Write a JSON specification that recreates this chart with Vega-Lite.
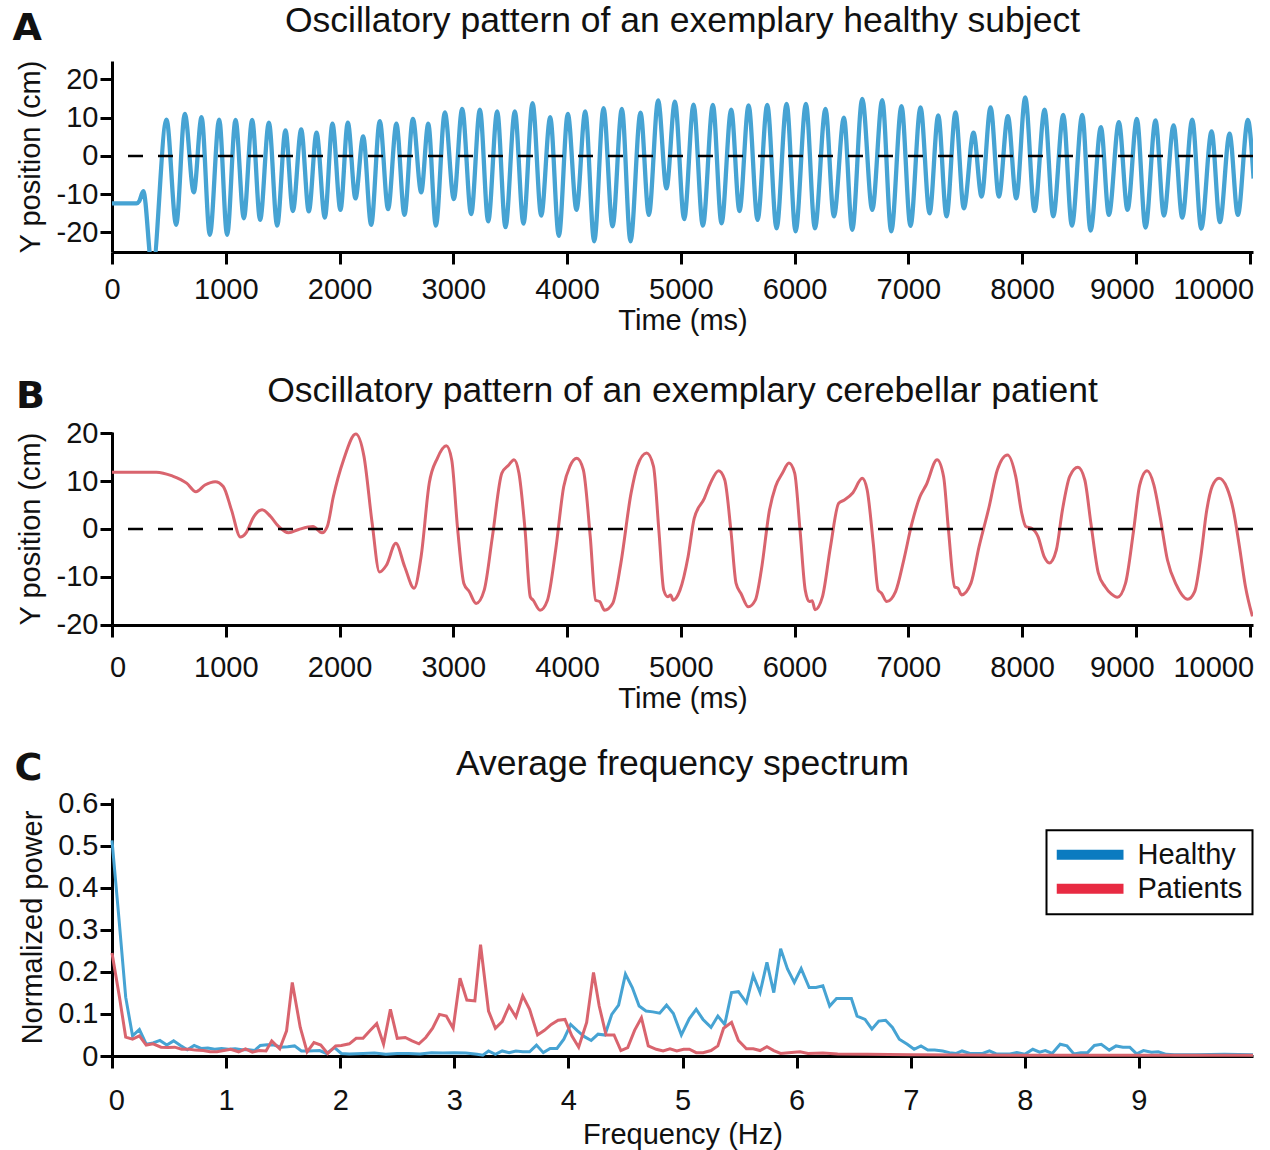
{
  "$schema": "https://vega.github.io/schema/vega-lite/v6.json",
  "padding": {"left": 12, "top": 4, "right": 5, "bottom": 5},
  "config": {
    "font": "Liberation Sans",
    "view": {"stroke": null},
    "axis": {
      "domainColor": "#000", "domainWidth": 3, "tickColor": "#000", "tickWidth": 3, "tickSize": 12,
      "labelFontSize": 29, "labelColor": "#111", "titleFontSize": 29, "titleFontWeight": "normal",
      "titleColor": "#111", "grid": false, "labelOverlap": false, "labelFlush": false, "labelBound": false
    },
    "title": {"fontSize": 35.5, "fontWeight": "normal", "color": "#111"}
  },
  "resolve": {"legend": {"color": "independent"}},
  "datasets": {
    "healthy": [
      {"t":0,"y":-12.4},{"t":215,"y":-12.4},{"t":240,"y":-11.8},{"t":275,"y":-9.2},{"t":355,"y":-30},
      {"t":479,"y":9.5},{"t":564,"y":-18.0},{"t":640,"y":11.0},{"t":719,"y":-9.5},{"t":787,"y":10.1},
      {"t":860,"y":-20.6},{"t":942,"y":9.5},{"t":1012,"y":-20.6},{"t":1086,"y":9.4},{"t":1159,"y":-16.3},
      {"t":1232,"y":9.4},{"t":1302,"y":-16.7},{"t":1379,"y":8.7},{"t":1452,"y":-18.2},{"t":1525,"y":6.7},
      {"t":1590,"y":-14.4},{"t":1663,"y":6.9},{"t":1730,"y":-14.5},{"t":1798,"y":6.1},{"t":1871,"y":-16.1},
      {"t":1938,"y":8.4},{"t":2008,"y":-14.1},{"t":2073,"y":8.7},{"t":2140,"y":-11.1},{"t":2208,"y":5.1},
      {"t":2278,"y":-18.0},{"t":2354,"y":9.1},{"t":2427,"y":-13.9},{"t":2500,"y":8.4},{"t":2571,"y":-15.4},
      {"t":2645,"y":9.7},{"t":2718,"y":-9.5},{"t":2780,"y":8.4},{"t":2847,"y":-18.2},{"t":2926,"y":11.4},
      {"t":3005,"y":-11.3},{"t":3078,"y":12.3},{"t":3157,"y":-15.2},{"t":3234,"y":12.1},{"t":3307,"y":-17.1},
      {"t":3386,"y":11.6},{"t":3459,"y":-18.6},{"t":3541,"y":11.6},{"t":3617,"y":-17.7},{"t":3697,"y":13.8},
      {"t":3773,"y":-15.6},{"t":3852,"y":10.1},{"t":3928,"y":-20.9},{"t":4007,"y":11.0},{"t":4083,"y":-14.1},
      {"t":4160,"y":11.6},{"t":4239,"y":-22.3},{"t":4321,"y":12.5},{"t":4400,"y":-18.4},{"t":4482,"y":12.3},
      {"t":4558,"y":-22.3},{"t":4646,"y":11.3},{"t":4719,"y":-15.4},{"t":4801,"y":14.5},{"t":4874,"y":-8.5},
      {"t":4948,"y":14.2},{"t":5030,"y":-16.5},{"t":5112,"y":13.4},{"t":5194,"y":-18.2},{"t":5282,"y":13.3},
      {"t":5358,"y":-17.6},{"t":5443,"y":12.1},{"t":5516,"y":-14.4},{"t":5596,"y":13.2},{"t":5675,"y":-16.7},
      {"t":5760,"y":13.3},{"t":5842,"y":-18.9},{"t":5930,"y":13.6},{"t":6009,"y":-19.7},{"t":6100,"y":13.6},
      {"t":6179,"y":-18.9},{"t":6272,"y":12.3},{"t":6346,"y":-15.8},{"t":6434,"y":10.0},{"t":6507,"y":-19.3},
      {"t":6595,"y":14.9},{"t":6683,"y":-14.1},{"t":6771,"y":14.6},{"t":6850,"y":-19.7},{"t":6940,"y":13.0},
      {"t":7019,"y":-18.3},{"t":7107,"y":12.7},{"t":7187,"y":-15.0},{"t":7263,"y":10.6},{"t":7336,"y":-15.8},
      {"t":7415,"y":11.4},{"t":7488,"y":-13.7},{"t":7573,"y":6.1},{"t":7644,"y":-10.6},{"t":7723,"y":12.7},
      {"t":7796,"y":-10.6},{"t":7875,"y":10.4},{"t":7949,"y":-11.1},{"t":8028,"y":15.3},{"t":8110,"y":-14.4},
      {"t":8198,"y":12.1},{"t":8274,"y":-15.8},{"t":8362,"y":10.7},{"t":8438,"y":-18.2},{"t":8529,"y":10.7},
      {"t":8602,"y":-19.5},{"t":8693,"y":7.5},{"t":8763,"y":-15.4},{"t":8851,"y":8.8},{"t":8927,"y":-14.1},
      {"t":9009,"y":9.7},{"t":9085,"y":-18.7},{"t":9173,"y":9.3},{"t":9247,"y":-15.6},{"t":9332,"y":8.0},
      {"t":9408,"y":-16.1},{"t":9496,"y":9.5},{"t":9575,"y":-19.0},{"t":9666,"y":6.4},{"t":9739,"y":-17.3},
      {"t":9824,"y":5.8},{"t":9897,"y":-15.4},{"t":9985,"y":9.4},{"t":10035,"y":-5.9}
    ],
    "patient": [
      {"t":0,"y":11.9},{"t":390,"y":11.9},{"t":530,"y":11.1},{"t":656,"y":9.6},{"t":738,"y":7.8},
      {"t":817,"y":9.2},{"t":907,"y":9.9},{"t":978,"y":8.9},{"t":1050,"y":4.0},{"t":1129,"y":-1.7},
      {"t":1176,"y":-0.9},{"t":1247,"y":2.6},{"t":1319,"y":4.0},{"t":1391,"y":2.7},{"t":1462,"y":0.6},
      {"t":1552,"y":-0.8},{"t":1642,"y":-0.1},{"t":1767,"y":0.5},{"t":1846,"y":-0.8},{"t":1892,"y":0.5},
      {"t":1946,"y":6.8},{"t":2036,"y":14.5},{"t":2143,"y":19.9},{"t":2215,"y":15.2},{"t":2287,"y":1.2},
      {"t":2351,"y":-9.0},{"t":2412,"y":-7.6},{"t":2495,"y":-3.0},{"t":2573,"y":-7.9},{"t":2656,"y":-12.4},
      {"t":2717,"y":-5.8},{"t":2789,"y":9.6},{"t":2860,"y":14.8},{"t":2939,"y":17.4},{"t":2986,"y":14.5},
      {"t":3039,"y":-0.2},{"t":3093,"y":-11.4},{"t":3140,"y":-13.1},{"t":3201,"y":-15.6},{"t":3272,"y":-12.8},
      {"t":3344,"y":-1.6},{"t":3427,"y":11.7},{"t":3488,"y":13.4},{"t":3534,"y":14.5},{"t":3577,"y":11.7},
      {"t":3631,"y":-0.2},{"t":3677,"y":-14.2},{"t":3702,"y":-14.9},{"t":3763,"y":-17.0},{"t":3828,"y":-14.9},
      {"t":3900,"y":-4.4},{"t":3971,"y":8.9},{"t":4025,"y":13.1},{"t":4086,"y":14.8},{"t":4143,"y":12.4},
      {"t":4204,"y":-1.6},{"t":4251,"y":-14.9},{"t":4287,"y":-15.2},{"t":4330,"y":-17.0},{"t":4401,"y":-15.6},
      {"t":4473,"y":-7.2},{"t":4563,"y":7.5},{"t":4617,"y":13.1},{"t":4700,"y":15.9},{"t":4760,"y":13.1},
      {"t":4807,"y":-0.2},{"t":4850,"y":-12.8},{"t":4886,"y":-14.2},{"t":4911,"y":-13.8},{"t":4932,"y":-14.9},
      {"t":4993,"y":-12.8},{"t":5064,"y":-5.8},{"t":5118,"y":2.2},{"t":5207,"y":6.4},{"t":5261,"y":9.6},
      {"t":5333,"y":12.2},{"t":5386,"y":10.3},{"t":5440,"y":-0.2},{"t":5486,"y":-11.4},{"t":5529,"y":-13.5},
      {"t":5594,"y":-16.3},{"t":5655,"y":-14.9},{"t":5708,"y":-8.6},{"t":5780,"y":4.0},{"t":5833,"y":8.9},
      {"t":5894,"y":11.7},{"t":5951,"y":13.8},{"t":6001,"y":11.7},{"t":6048,"y":-0.2},{"t":6094,"y":-12.8},
      {"t":6130,"y":-15.2},{"t":6155,"y":-15.0},{"t":6180,"y":-16.9},{"t":6245,"y":-14.2},{"t":6316,"y":-3.7},
      {"t":6388,"y":5.4},{"t":6441,"y":6.1},{"t":6513,"y":7.6},{"t":6595,"y":10.6},{"t":6638,"y":8.2},
      {"t":6692,"y":-3.0},{"t":6735,"y":-12.8},{"t":6763,"y":-13.4},{"t":6810,"y":-15.2},{"t":6888,"y":-13.1},
      {"t":6960,"y":-6.5},{"t":7032,"y":1.2},{"t":7103,"y":6.8},{"t":7157,"y":9.2},{"t":7253,"y":14.5},
      {"t":7310,"y":11.0},{"t":7353,"y":-0.2},{"t":7407,"y":-12.1},{"t":7436,"y":-12.4},{"t":7468,"y":-13.8},
      {"t":7550,"y":-11.4},{"t":7622,"y":-3.7},{"t":7711,"y":4.7},{"t":7783,"y":12.4},{"t":7872,"y":15.5},
      {"t":7944,"y":11.0},{"t":7997,"y":3.3},{"t":8033,"y":0.5},{"t":8087,"y":0.1},{"t":8140,"y":-1.6},
      {"t":8194,"y":-5.8},{"t":8240,"y":-7.1},{"t":8301,"y":-4.4},{"t":8355,"y":4.0},{"t":8419,"y":11.0},
      {"t":8491,"y":12.9},{"t":8551,"y":10.3},{"t":8605,"y":1.2},{"t":8670,"y":-9.2},{"t":8730,"y":-12.1},
      {"t":8784,"y":-13.6},{"t":8838,"y":-14.3},{"t":8909,"y":-11.4},{"t":8981,"y":-0.2},{"t":9034,"y":9.2},
      {"t":9099,"y":12.2},{"t":9159,"y":9.2},{"t":9213,"y":2.6},{"t":9278,"y":-6.5},{"t":9356,"y":-11.7},
      {"t":9456,"y":-14.7},{"t":9517,"y":-13.1},{"t":9571,"y":-5.8},{"t":9624,"y":4.0},{"t":9671,"y":8.9},
      {"t":9732,"y":10.6},{"t":9803,"y":8.5},{"t":9857,"y":4.0},{"t":9911,"y":-3.7},{"t":9964,"y":-12.1},
      {"t":10025,"y":-18.3}
    ],
    "spectrum": [
      {"f":0,"p":0.513,"g":"Healthy"},{"f":0.06,"p":0.33,"g":"Healthy"},{"f":0.12,"p":0.14,"g":"Healthy"},
      {"f":0.18,"p":0.048,"g":"Healthy"},{"f":0.24,"p":0.063,"g":"Healthy"},{"f":0.30,"p":0.028,"g":"Healthy"},
      {"f":0.36,"p":0.031,"g":"Healthy"},{"f":0.42,"p":0.037,"g":"Healthy"},{"f":0.48,"p":0.026,"g":"Healthy"},
      {"f":0.54,"p":0.036,"g":"Healthy"},{"f":0.60,"p":0.025,"g":"Healthy"},{"f":0.66,"p":0.015,"g":"Healthy"},
      {"f":0.72,"p":0.025,"g":"Healthy"},{"f":0.78,"p":0.018,"g":"Healthy"},{"f":0.84,"p":0.019,"g":"Healthy"},
      {"f":0.90,"p":0.016,"g":"Healthy"},{"f":0.96,"p":0.018,"g":"Healthy"},{"f":1.02,"p":0.016,"g":"Healthy"},
      {"f":1.08,"p":0.017,"g":"Healthy"},{"f":1.14,"p":0.015,"g":"Healthy"},{"f":1.20,"p":0.015,"g":"Healthy"},
      {"f":1.25,"p":0.013,"g":"Healthy"},{"f":1.30,"p":0.025,"g":"Healthy"},{"f":1.36,"p":0.027,"g":"Healthy"},
      {"f":1.42,"p":0.026,"g":"Healthy"},{"f":1.48,"p":0.021,"g":"Healthy"},{"f":1.54,"p":0.022,"g":"Healthy"},
      {"f":1.60,"p":0.024,"g":"Healthy"},{"f":1.66,"p":0.012,"g":"Healthy"},{"f":1.72,"p":0.012,"g":"Healthy"},
      {"f":1.82,"p":0.013,"g":"Healthy"},{"f":1.88,"p":0.006,"g":"Healthy"},{"f":1.95,"p":0.020,"g":"Healthy"},
      {"f":2.01,"p":0.006,"g":"Healthy"},{"f":2.08,"p":0.005,"g":"Healthy"},{"f":2.2,"p":0.006,"g":"Healthy"},
      {"f":2.3,"p":0.007,"g":"Healthy"},{"f":2.4,"p":0.004,"g":"Healthy"},{"f":2.5,"p":0.006,"g":"Healthy"},
      {"f":2.6,"p":0.006,"g":"Healthy"},{"f":2.7,"p":0.005,"g":"Healthy"},{"f":2.8,"p":0.008,"g":"Healthy"},
      {"f":2.9,"p":0.007,"g":"Healthy"},{"f":3.0,"p":0.008,"g":"Healthy"},{"f":3.1,"p":0.007,"g":"Healthy"},
      {"f":3.2,"p":0.004,"g":"Healthy"},{"f":3.25,"p":0.002,"g":"Healthy"},{"f":3.30,"p":0.012,"g":"Healthy"},
      {"f":3.36,"p":0.004,"g":"Healthy"},{"f":3.42,"p":0.012,"g":"Healthy"},{"f":3.48,"p":0.008,"g":"Healthy"},
      {"f":3.54,"p":0.012,"g":"Healthy"},{"f":3.60,"p":0.010,"g":"Healthy"},{"f":3.66,"p":0.010,"g":"Healthy"},
      {"f":3.72,"p":0.026,"g":"Healthy"},{"f":3.78,"p":0.008,"g":"Healthy"},{"f":3.84,"p":0.018,"g":"Healthy"},
      {"f":3.90,"p":0.018,"g":"Healthy"},{"f":3.96,"p":0.040,"g":"Healthy"},{"f":4.02,"p":0.075,"g":"Healthy"},
      {"f":4.08,"p":0.060,"g":"Healthy"},{"f":4.14,"p":0.046,"g":"Healthy"},{"f":4.20,"p":0.037,"g":"Healthy"},
      {"f":4.26,"p":0.052,"g":"Healthy"},{"f":4.32,"p":0.050,"g":"Healthy"},{"f":4.38,"p":0.099,"g":"Healthy"},
      {"f":4.44,"p":0.121,"g":"Healthy"},{"f":4.50,"p":0.195,"g":"Healthy"},{"f":4.56,"p":0.163,"g":"Healthy"},
      {"f":4.62,"p":0.119,"g":"Healthy"},{"f":4.68,"p":0.107,"g":"Healthy"},{"f":4.74,"p":0.105,"g":"Healthy"},
      {"f":4.80,"p":0.102,"g":"Healthy"},{"f":4.86,"p":0.121,"g":"Healthy"},{"f":4.92,"p":0.101,"g":"Healthy"},
      {"f":4.99,"p":0.050,"g":"Healthy"},{"f":5.06,"p":0.089,"g":"Healthy"},{"f":5.12,"p":0.111,"g":"Healthy"},
      {"f":5.18,"p":0.087,"g":"Healthy"},{"f":5.25,"p":0.068,"g":"Healthy"},{"f":5.31,"p":0.095,"g":"Healthy"},
      {"f":5.37,"p":0.075,"g":"Healthy"},{"f":5.43,"p":0.151,"g":"Healthy"},{"f":5.49,"p":0.153,"g":"Healthy"},
      {"f":5.56,"p":0.127,"g":"Healthy"},{"f":5.62,"p":0.192,"g":"Healthy"},{"f":5.68,"p":0.151,"g":"Healthy"},
      {"f":5.74,"p":0.223,"g":"Healthy"},{"f":5.80,"p":0.151,"g":"Healthy"},{"f":5.86,"p":0.255,"g":"Healthy"},
      {"f":5.92,"p":0.207,"g":"Healthy"},{"f":5.98,"p":0.175,"g":"Healthy"},{"f":6.04,"p":0.208,"g":"Healthy"},
      {"f":6.11,"p":0.163,"g":"Healthy"},{"f":6.17,"p":0.163,"g":"Healthy"},{"f":6.23,"p":0.167,"g":"Healthy"},
      {"f":6.29,"p":0.119,"g":"Healthy"},{"f":6.35,"p":0.137,"g":"Healthy"},{"f":6.42,"p":0.137,"g":"Healthy"},
      {"f":6.48,"p":0.137,"g":"Healthy"},{"f":6.53,"p":0.095,"g":"Healthy"},{"f":6.60,"p":0.087,"g":"Healthy"},
      {"f":6.66,"p":0.064,"g":"Healthy"},{"f":6.72,"p":0.083,"g":"Healthy"},{"f":6.78,"p":0.085,"g":"Healthy"},
      {"f":6.84,"p":0.068,"g":"Healthy"},{"f":6.90,"p":0.040,"g":"Healthy"},{"f":6.97,"p":0.028,"g":"Healthy"},
      {"f":7.03,"p":0.016,"g":"Healthy"},{"f":7.09,"p":0.024,"g":"Healthy"},{"f":7.15,"p":0.014,"g":"Healthy"},
      {"f":7.21,"p":0.014,"g":"Healthy"},{"f":7.28,"p":0.012,"g":"Healthy"},{"f":7.34,"p":0.008,"g":"Healthy"},
      {"f":7.40,"p":0.006,"g":"Healthy"},{"f":7.45,"p":0.012,"g":"Healthy"},{"f":7.52,"p":0.006,"g":"Healthy"},
      {"f":7.58,"p":0.006,"g":"Healthy"},{"f":7.63,"p":0.006,"g":"Healthy"},{"f":7.69,"p":0.012,"g":"Healthy"},
      {"f":7.75,"p":0.005,"g":"Healthy"},{"f":7.87,"p":0.005,"g":"Healthy"},{"f":7.93,"p":0.008,"g":"Healthy"},
      {"f":8.00,"p":0.004,"g":"Healthy"},{"f":8.07,"p":0.016,"g":"Healthy"},{"f":8.13,"p":0.009,"g":"Healthy"},
      {"f":8.18,"p":0.013,"g":"Healthy"},{"f":8.24,"p":0.006,"g":"Healthy"},{"f":8.31,"p":0.028,"g":"Healthy"},
      {"f":8.37,"p":0.024,"g":"Healthy"},{"f":8.43,"p":0.005,"g":"Healthy"},{"f":8.49,"p":0.008,"g":"Healthy"},
      {"f":8.55,"p":0.008,"g":"Healthy"},{"f":8.61,"p":0.025,"g":"Healthy"},{"f":8.67,"p":0.028,"g":"Healthy"},
      {"f":8.74,"p":0.014,"g":"Healthy"},{"f":8.80,"p":0.024,"g":"Healthy"},{"f":8.86,"p":0.021,"g":"Healthy"},
      {"f":8.92,"p":0.021,"g":"Healthy"},{"f":8.98,"p":0.005,"g":"Healthy"},{"f":9.04,"p":0.013,"g":"Healthy"},
      {"f":9.11,"p":0.009,"g":"Healthy"},{"f":9.17,"p":0.010,"g":"Healthy"},{"f":9.24,"p":0.004,"g":"Healthy"},
      {"f":9.31,"p":0.003,"g":"Healthy"},{"f":9.5,"p":0.003,"g":"Healthy"},{"f":9.75,"p":0.004,"g":"Healthy"},
      {"f":10.0,"p":0.003,"g":"Healthy"},
      {"f":0,"p":0.245,"g":"Patients"},{"f":0.066,"p":0.139,"g":"Patients"},{"f":0.12,"p":0.045,"g":"Patients"},
      {"f":0.18,"p":0.040,"g":"Patients"},{"f":0.24,"p":0.048,"g":"Patients"},{"f":0.30,"p":0.026,"g":"Patients"},
      {"f":0.36,"p":0.029,"g":"Patients"},{"f":0.43,"p":0.021,"g":"Patients"},{"f":0.49,"p":0.020,"g":"Patients"},
      {"f":0.55,"p":0.021,"g":"Patients"},{"f":0.61,"p":0.016,"g":"Patients"},{"f":0.68,"p":0.016,"g":"Patients"},
      {"f":0.73,"p":0.014,"g":"Patients"},{"f":0.80,"p":0.013,"g":"Patients"},{"f":0.86,"p":0.010,"g":"Patients"},
      {"f":0.92,"p":0.010,"g":"Patients"},{"f":0.98,"p":0.013,"g":"Patients"},{"f":1.04,"p":0.016,"g":"Patients"},
      {"f":1.11,"p":0.010,"g":"Patients"},{"f":1.17,"p":0.017,"g":"Patients"},{"f":1.23,"p":0.009,"g":"Patients"},
      {"f":1.29,"p":0.013,"g":"Patients"},{"f":1.35,"p":0.012,"g":"Patients"},{"f":1.40,"p":0.036,"g":"Patients"},
      {"f":1.47,"p":0.017,"g":"Patients"},{"f":1.53,"p":0.060,"g":"Patients"},{"f":1.58,"p":0.175,"g":"Patients"},
      {"f":1.65,"p":0.068,"g":"Patients"},{"f":1.71,"p":0.010,"g":"Patients"},{"f":1.77,"p":0.032,"g":"Patients"},
      {"f":1.83,"p":0.026,"g":"Patients"},{"f":1.89,"p":0.006,"g":"Patients"},{"f":1.96,"p":0.024,"g":"Patients"},
      {"f":2.01,"p":0.025,"g":"Patients"},{"f":2.08,"p":0.029,"g":"Patients"},{"f":2.14,"p":0.042,"g":"Patients"},
      {"f":2.20,"p":0.042,"g":"Patients"},{"f":2.26,"p":0.060,"g":"Patients"},{"f":2.32,"p":0.077,"g":"Patients"},
      {"f":2.38,"p":0.028,"g":"Patients"},{"f":2.44,"p":0.111,"g":"Patients"},{"f":2.50,"p":0.042,"g":"Patients"},
      {"f":2.57,"p":0.044,"g":"Patients"},{"f":2.63,"p":0.036,"g":"Patients"},{"f":2.69,"p":0.029,"g":"Patients"},
      {"f":2.75,"p":0.044,"g":"Patients"},{"f":2.81,"p":0.066,"g":"Patients"},{"f":2.87,"p":0.099,"g":"Patients"},
      {"f":2.93,"p":0.095,"g":"Patients"},{"f":2.99,"p":0.066,"g":"Patients"},{"f":3.05,"p":0.185,"g":"Patients"},
      {"f":3.11,"p":0.133,"g":"Patients"},{"f":3.18,"p":0.131,"g":"Patients"},{"f":3.23,"p":0.265,"g":"Patients"},
      {"f":3.30,"p":0.107,"g":"Patients"},{"f":3.36,"p":0.066,"g":"Patients"},{"f":3.42,"p":0.082,"g":"Patients"},
      {"f":3.48,"p":0.119,"g":"Patients"},{"f":3.54,"p":0.093,"g":"Patients"},{"f":3.60,"p":0.143,"g":"Patients"},
      {"f":3.66,"p":0.111,"g":"Patients"},{"f":3.73,"p":0.050,"g":"Patients"},{"f":3.79,"p":0.061,"g":"Patients"},
      {"f":3.85,"p":0.075,"g":"Patients"},{"f":3.91,"p":0.085,"g":"Patients"},{"f":3.97,"p":0.087,"g":"Patients"},
      {"f":4.03,"p":0.048,"g":"Patients"},{"f":4.09,"p":0.021,"g":"Patients"},{"f":4.16,"p":0.080,"g":"Patients"},
      {"f":4.22,"p":0.199,"g":"Patients"},{"f":4.27,"p":0.119,"g":"Patients"},{"f":4.33,"p":0.050,"g":"Patients"},
      {"f":4.40,"p":0.050,"g":"Patients"},{"f":4.46,"p":0.013,"g":"Patients"},{"f":4.52,"p":0.020,"g":"Patients"},
      {"f":4.58,"p":0.061,"g":"Patients"},{"f":4.64,"p":0.091,"g":"Patients"},{"f":4.70,"p":0.024,"g":"Patients"},
      {"f":4.77,"p":0.016,"g":"Patients"},{"f":4.83,"p":0.012,"g":"Patients"},{"f":4.89,"p":0.017,"g":"Patients"},
      {"f":4.95,"p":0.012,"g":"Patients"},{"f":5.01,"p":0.016,"g":"Patients"},{"f":5.06,"p":0.016,"g":"Patients"},
      {"f":5.12,"p":0.008,"g":"Patients"},{"f":5.18,"p":0.008,"g":"Patients"},{"f":5.25,"p":0.013,"g":"Patients"},
      {"f":5.31,"p":0.024,"g":"Patients"},{"f":5.36,"p":0.066,"g":"Patients"},{"f":5.43,"p":0.080,"g":"Patients"},
      {"f":5.49,"p":0.037,"g":"Patients"},{"f":5.56,"p":0.017,"g":"Patients"},{"f":5.62,"p":0.017,"g":"Patients"},
      {"f":5.68,"p":0.013,"g":"Patients"},{"f":5.74,"p":0.022,"g":"Patients"},{"f":5.80,"p":0.013,"g":"Patients"},
      {"f":5.86,"p":0.006,"g":"Patients"},{"f":5.93,"p":0.008,"g":"Patients"},{"f":6.03,"p":0.010,"g":"Patients"},
      {"f":6.10,"p":0.006,"g":"Patients"},{"f":6.23,"p":0.007,"g":"Patients"},{"f":6.36,"p":0.005,"g":"Patients"},
      {"f":6.62,"p":0.004,"g":"Patients"},{"f":7.0,"p":0.003,"g":"Patients"},{"f":8.0,"p":0.002,"g":"Patients"},
      {"f":9.0,"p":0.002,"g":"Patients"},{"f":10.0,"p":0.002,"g":"Patients"}
    ]
  },
  "spacing": 38,
  "vconcat": [
    {
      "title": {"text": "A", "anchor": "start", "frame": "bounds", "font": "DejaVu Sans", "fontSize": 38, "fontWeight": "bold", "color": "#111", "offset": -43.4, "dx": -4},
      "vconcat": [
        {
          "width": 1141, "height": 191,
          "title": {"text": "Oscillatory pattern of an exemplary healthy subject", "anchor": "middle", "frame": "group", "offset": 20},
          "layer": [
            {
              "data": {"name": "healthy"},
              "mark": {"type": "line", "interpolate": "monotone", "color": "#46a3d3", "strokeWidth": 4.3, "clip": true},
              "encoding": {
                "x": {"field": "t", "type": "quantitative", "scale": {"domain": [0, 10030], "nice": false, "zero": false},
                      "axis": {"values": [0,1000,2000,3000,4000,5000,6000,7000,8000,9000,10000], "format": "d", "title": "Time (ms)",
                               "labelPadding": 11, "titlePadding": 2,
                               "labelAlign": {"condition": {"test": "datum.value === 10000", "value": "right"}, "value": "center"},
                               "labelOffset": {"condition": [{"test": "datum.value === 9000", "value": -14}, {"test": "datum.value === 10000", "value": 4}], "value": 0}}},
                "y": {"field": "y", "type": "quantitative", "scale": {"domain": [-25.1, 24.8], "nice": false},
                      "axis": {"values": [-20,-10,0,10,20], "title": "Y position (cm)", "labelPadding": 2, "titlePadding": 10.6,
                               "labelExpr": "datum.value < 0 ? '-' + (-datum.value) : '' + datum.value"}}
              }
            },
            {
              "data": {"values": [{}]},
              "mark": {"type": "rule", "color": "#000", "strokeWidth": 2.5, "strokeDash": [15, 15]},
              "encoding": {"y": {"datum": 0}}
            }
          ]
        }
      ]
    },
    {
      "spacing": 32,
      "resolve": {"legend": {"color": "independent"}},
      "vconcat": [
        {
          "title": {"text": "B", "anchor": "start", "frame": "bounds", "font": "DejaVu Sans", "fontSize": 38, "fontWeight": "bold", "color": "#111", "offset": -42.1, "dx": -0.5},
          "vconcat": [
            {
              "width": 1141, "height": 193,
              "title": {"text": "Oscillatory pattern of an exemplary cerebellar patient", "anchor": "middle", "frame": "group", "offset": 10},
              "layer": [
                {
                  "data": {"name": "patient"},
                  "mark": {"type": "line", "interpolate": "monotone", "color": "#d9646e", "strokeWidth": 3, "clip": true},
                  "encoding": {
                    "x": {"field": "t", "type": "quantitative", "scale": {"domain": [0, 10030], "nice": false, "zero": false},
                          "axis": {"values": [0,1000,2000,3000,4000,5000,6000,7000,8000,9000,10000], "format": "d", "title": "Time (ms)",
                                   "labelPadding": 16.6, "titlePadding": 2,
                                   "labelAlign": {"condition": {"test": "datum.value === 10000", "value": "right"}, "value": "center"},
                                   "labelOffset": {"condition": [{"test": "datum.value === 0", "value": 5.5}, {"test": "datum.value === 9000", "value": -14}, {"test": "datum.value === 10000", "value": 4}], "value": 0}}},
                    "y": {"field": "y", "type": "quantitative", "scale": {"domain": [-20.1, 20.3], "nice": false},
                          "axis": {"values": [-20,-10,0,10,20], "title": "Y position (cm)", "labelPadding": 2, "titlePadding": 10.6,
                                   "labelExpr": "datum.value < 0 ? '-' + (-datum.value) : '' + datum.value"}}
                  }
                },
                {
                  "data": {"values": [{}]},
                  "mark": {"type": "rule", "color": "#000", "strokeWidth": 2.5, "strokeDash": [15, 15]},
                  "encoding": {"y": {"datum": 0}}
                }
              ]
            }
          ]
        },
        {
          "title": {"text": "C", "anchor": "start", "frame": "bounds", "font": "DejaVu Sans", "fontSize": 38, "fontWeight": "bold", "color": "#111", "offset": -41.1, "dx": -3.6},
          "resolve": {"legend": {"color": "independent"}},
          "vconcat": [
            {
              "width": 1141, "height": 258,
              "title": {"text": "Average frequency spectrum", "anchor": "middle", "frame": "group", "offset": 7.5},
              "data": {"name": "spectrum"},
              "encoding": {
                "x": {"field": "f", "type": "quantitative", "scale": {"domain": [0, 10], "nice": false, "zero": false},
                      "axis": {"values": [0,1,2,3,4,5,6,7,8,9], "format": "d", "title": "Frequency (Hz)",
                               "labelPadding": 18, "titlePadding": 5,
                               "labelOffset": {"condition": {"test": "datum.value === 0", "value": 4.3}, "value": 0}}},
                "y": {"field": "p", "type": "quantitative", "scale": {"domain": [0, 0.614], "nice": false},
                      "axis": {"values": [0,0.1,0.2,0.3,0.4,0.5,0.6], "format": ".1f", "title": "Normalized power",
                               "labelPadding": 2, "titlePadding": 10.6,
                               "labelExpr": "datum.value === 0 ? '0' : datum.label"}}
              },
              "layer": [
                {
                  "mark": {"type": "line", "strokeWidth": 3},
                  "encoding": {
                    "color": {"field": "g", "type": "nominal",
                              "scale": {"domain": ["Healthy", "Patients"], "range": ["#46a3d3", "#d9646e"]},
                              "legend": null}
                  }
                },
                {
                  "mark": {"type": "line", "strokeWidth": 3, "opacity": 0},
                  "encoding": {
                    "stroke": {"field": "g", "type": "nominal",
                              "scale": {"domain": ["Healthy", "Patients"], "range": ["#0b7bc0", "#e82a42"]},
                              "legend": {"title": null, "orient": "none", "legendX": 934.5, "legendY": 32.3,
                                         "symbolType": "M-6.7,0H6.7", "symbolSize": 100, "symbolStrokeWidth": 10,
                                         "symbolOffset": 19, "labelOffset": 33, "labelFontSize": 29, "labelColor": "#111",
                                         "labelFont": "Liberation Sans", "rowPadding": 4, "padding": 10, "clipHeight": 29,
                                         "symbolOpacity": 1, "strokeColor": "#000", "fillColor": "#fff",
                                         "encode": {"legend": {"update": {"strokeWidth": {"value": 2}}}}}}
                  }
                }
              ],
              "resolve": {"scale": {"color": "independent", "stroke": "independent"}, "legend": {"color": "independent", "stroke": "independent"}}
            }
          ]
        }
      ]
    }
  ]
}
